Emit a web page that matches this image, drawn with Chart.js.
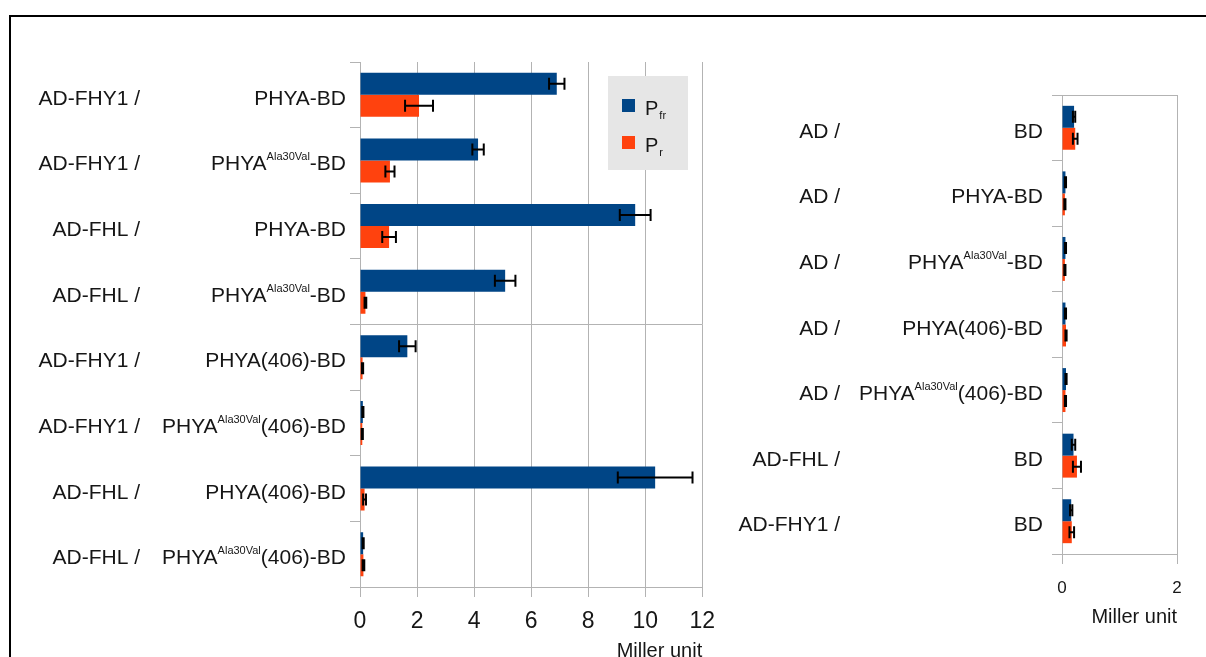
<!DOCTYPE html>
<html>
<head>
<meta charset="utf-8">
<script src="https://cdn.jsdelivr.net/npm/chart.js@4/dist/chart.umd.min.js"></script>
<style>
  html, body { margin: 0; padding: 0; background: #fff; overflow: hidden; width: 1206px; height: 657px; }
  #frame { position: absolute; left: 9px; top: 15px; width: 1400px; height: 800px; border-top: 2px solid #000; border-left: 2px solid #000; }
  #c1 { position: absolute; left: 0; top: 0; }
  #c2 { position: absolute; left: 720px; top: 0; }
</style>
</head>
<body>
<div id="frame"></div>
<canvas id="c1" width="726" height="670"></canvas>
<canvas id="c2" width="486" height="670"></canvas>
<script>
// Series names (main letter + subscript) and colours
const seriesMain = ['P', 'P'];
const seriesSub = ['fr', 'r'];
const seriesColors = ['#004586', '#ff420e'];

// Left panel: two-hybrid pairs, "^...^" marks superscript text
const leftPartners = ['AD-FHY1 /', 'AD-FHY1 /', 'AD-FHL /', 'AD-FHL /', 'AD-FHY1 /', 'AD-FHY1 /', 'AD-FHL /', 'AD-FHL /'];
const leftBaits = ['PHYA-BD', 'PHYA^Ala30Val^-BD', 'PHYA-BD', 'PHYA^Ala30Val^-BD', 'PHYA(406)-BD', 'PHYA^Ala30Val^(406)-BD', 'PHYA(406)-BD', 'PHYA^Ala30Val^(406)-BD'];
const leftPfr = [6.9, 4.14, 9.65, 5.09, 1.66, 0.10, 10.35, 0.11];
const leftPfrErr = [0.27, 0.20, 0.54, 0.36, 0.29, 0.02, 1.31, 0.02];
const leftPr = [2.07, 1.05, 1.02, 0.19, 0.09, 0.08, 0.16, 0.12];
const leftPrErr = [0.49, 0.16, 0.24, 0.03, 0.02, 0.02, 0.05, 0.03];
const leftMax = 12;

// Right panel: controls
const rightPartners = ['AD /', 'AD /', 'AD /', 'AD /', 'AD /', 'AD-FHL /', 'AD-FHY1 /'];
const rightBaits = ['BD', 'PHYA-BD', 'PHYA^Ala30Val^-BD', 'PHYA(406)-BD', 'PHYA^Ala30Val^(406)-BD', 'BD', 'BD'];
const rightPfr = [0.21, 0.06, 0.06, 0.06, 0.07, 0.20, 0.16];
const rightPfrErr = [0.02, 0.01, 0.01, 0.01, 0.01, 0.03, 0.02];
const rightPr = [0.23, 0.05, 0.05, 0.07, 0.06, 0.26, 0.17];
const rightPrErr = [0.04, 0.01, 0.01, 0.01, 0.01, 0.07, 0.04];
const rightMax = 2;

const axisTitle = 'Miller unit';
const FONT = "'Liberation Sans', Arial, sans-serif";
const GRID = '#b3b3b3';
const TEXT = '#161616';

Chart.defaults.font.family = FONT;
Chart.defaults.color = TEXT;

const plain = s => s.split('^').join('');

// Draws a string with ^superscript^ segments, right-aligned at xRight
function drawRich(ctx, text, xRight, baseline, size, supSize, raise) {
  const parts = text.split('^');
  const fonts = parts.map((p, i) => (i % 2 ? supSize : size) + 'px ' + FONT);
  let total = 0;
  const widths = parts.map((p, i) => { ctx.font = fonts[i]; const w = ctx.measureText(p).width; total += w; return w; });
  let x = xRight - total;
  ctx.textAlign = 'left';
  ctx.textBaseline = 'alphabetic';
  parts.forEach((p, i) => {
    ctx.font = fonts[i];
    ctx.fillText(p, x, i % 2 ? baseline - raise : baseline);
    x += widths[i];
  });
}

// Error whiskers drawn from each dataset's `errors` through the x scale
const errorBars = {
  id: 'errorBars',
  afterDatasetsDraw(chart) {
    const { ctx } = chart;
    const xs = chart.scales.x;
    ctx.save();
    ctx.strokeStyle = '#000';
    ctx.lineWidth = 2;
    chart.data.datasets.forEach((ds, di) => {
      const meta = chart.getDatasetMeta(di);
      meta.data.forEach((bar, i) => {
        const v = ds.data[i], e = ds.errors[i];
        const x1 = xs.getPixelForValue(v - e), x2 = xs.getPixelForValue(v + e);
        const y = bar.y, h = 6;
        ctx.beginPath();
        ctx.moveTo(x1, y); ctx.lineTo(x2, y);
        ctx.moveTo(x1, y - h); ctx.lineTo(x1, y + h);
        ctx.moveTo(x2, y - h); ctx.lineTo(x2, y + h);
        ctx.stroke();
      });
    });
    ctx.restore();
  }
};

// Two-part category labels beside the y axis
const pairLabels = {
  id: 'pairLabels',
  afterDraw(chart, args, opts) {
    const { ctx } = chart;
    const ys = chart.scales.y;
    ctx.save();
    ctx.fillStyle = TEXT;
    opts.partners.forEach((p, i) => {
      const base = ys.getPixelForValue(i) + 10;
      drawRich(ctx, p, opts.partnerRight, base, 21, 11, 10);
      drawRich(ctx, opts.baits[i], opts.baitRight, base, 21, 11, 10);
    });
    ctx.restore();
  }
};

// Boxed legend with subscripted series names
const boxLegend = {
  id: 'boxLegend',
  afterDraw(chart, args, opts) {
    if (!opts.show) return;
    const { ctx } = chart;
    ctx.save();
    ctx.fillStyle = '#e6e6e6';
    ctx.fillRect(608, 76, 80, 94);
    const rows = [106, 143];
    rows.forEach((cy, i) => {
      ctx.fillStyle = seriesColors[i];
      ctx.fillRect(622, cy - 7, 13, 13);
      ctx.fillStyle = TEXT;
      ctx.textAlign = 'left';
      ctx.textBaseline = 'alphabetic';
      ctx.font = '20px ' + FONT;
      ctx.fillText(seriesMain[i], 645, cy + 9);
      const w = ctx.measureText(seriesMain[i]).width;
      ctx.font = '11px ' + FONT;
      ctx.fillText(seriesSub[i], 645 + w + 1, cy + 13);
    });
    ctx.restore();
  }
};

function makePanel(canvas, cfg) {
  return new Chart(canvas, {
    type: 'bar',
    data: {
      labels: cfg.partners.map((p, i) => p + ' ' + plain(cfg.baits[i])),
      datasets: [
        { label: seriesMain[0] + seriesSub[0], data: cfg.pfr, errors: cfg.pfrErr, backgroundColor: seriesColors[0], borderWidth: 0 },
        { label: seriesMain[1] + seriesSub[1], data: cfg.pr, errors: cfg.prErr, backgroundColor: seriesColors[1], borderWidth: 0 }
      ]
    },
    options: {
      indexAxis: 'y',
      responsive: false,
      animation: false,
      events: [],
      categoryPercentage: 0.67,
      barPercentage: 1.0,
      layout: { padding: { left: 0, top: cfg.top, right: cfg.padRight, bottom: 0 } },
      plugins: {
        legend: { display: false },
        tooltip: { enabled: false },
        pairLabels: { partners: cfg.partners, baits: cfg.baits, partnerRight: cfg.partnerRight, baitRight: cfg.baitRight },
        boxLegend: { show: cfg.legend }
      },
      scales: {
        x: {
          min: 0, max: cfg.max,
          ticks: { stepSize: 2, font: { size: cfg.tickSize }, color: TEXT, padding: cfg.tickPad, maxRotation: 0 },
          grid: { color: GRID, tickColor: GRID, tickLength: 10, lineWidth: 1 },
          border: { color: GRID, width: 1 },
          title: { display: true, text: axisTitle, align: 'end', font: { size: 20 }, color: TEXT, padding: { top: 0, bottom: cfg.titlePad } },
          afterFit: s => { s.height = 670 - cfg.bottom; }
        },
        y: {
          ticks: { display: false },
          grid: {
            offset: true,
            tickLength: 10,
            tickColor: GRID,
            color: c => (cfg.lines.includes(c.index) ? GRID : 'rgba(0,0,0,0)')
          },
          border: { color: GRID, width: 1 },
          afterFit: s => { s.width = cfg.left; }
        }
      }
    },
    plugins: [errorBars, pairLabels, boxLegend]
  });
}

makePanel(document.getElementById('c1'), {
  partners: leftPartners, baits: leftBaits,
  pfr: leftPfr, pfrErr: leftPfrErr, pr: leftPr, prErr: leftPrErr,
  max: leftMax, left: 360, top: 62, bottom: 587, padRight: 0,
  tickSize: 23, tickPad: 11, titlePad: 7,
  partnerRight: 140, baitRight: 346, lines: [4], legend: true
});

makePanel(document.getElementById('c2'), {
  partners: rightPartners, baits: rightBaits,
  pfr: rightPfr, pfrErr: rightPfrErr, pr: rightPr, prErr: rightPrErr,
  max: rightMax, left: 342, top: 95, bottom: 554, padRight: 29,
  tickSize: 17, tickPad: 14, titlePad: 41,
  partnerRight: 120, baitRight: 323, lines: [0], legend: false
});
</script>
</body>
</html>
